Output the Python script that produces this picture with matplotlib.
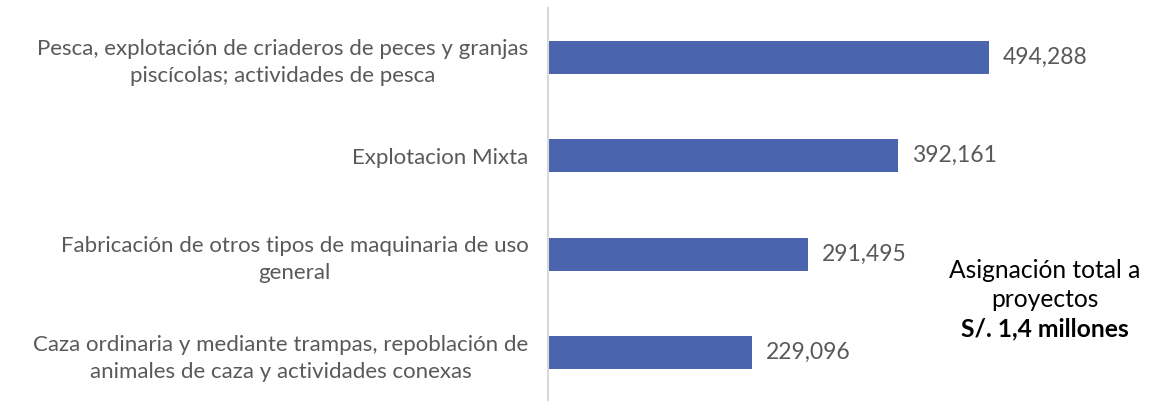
import matplotlib.pyplot as plt

categorias = [
    "Pesca, explotación de criaderos de peces y granjas\npiscícolas; actividades de pesca",
    "Explotacion Mixta",
    "Fabricación de otros tipos de maquinaria de uso\ngeneral",
    "Caza ordinaria y mediante trampas, repoblación de\nanimales de caza y actividades conexas",
]
montos = [494288, 392161, 291495, 229096]

plt.rcParams["font.family"] = ["Lato", "DejaVu Sans"]

fig = plt.figure(figsize=(11.65, 4.04), dpi=100)
ax = fig.add_axes([548 / 1165, 4 / 404, 617 / 1165, 392 / 404])

pos = list(range(len(categorias)))
bars = ax.barh(pos, montos, height=0.335, color="#4a65ad")

ax.set_xlim(0, 494288 * 617 / 441)
ax.set_ylim(3.48, -0.5)

ax.set_yticks(pos)
ax.set_yticklabels(categorias, fontsize=16, color="#595959", ha="right",
                   multialignment="center", linespacing=1.45)
ax.tick_params(axis="y", length=0, pad=14)
ax.set_xticks([])

for s in ["top", "right", "bottom"]:
    ax.spines[s].set_visible(False)
ax.spines["left"].set_color("#d9d9d9")
ax.spines["left"].set_linewidth(1.5)

for b, v in zip(bars, montos):
    ax.annotate(f"{v:,}", xy=(v, b.get_y() + b.get_height() / 2),
                xytext=(10, 0), textcoords="offset points",
                va="center", ha="left", fontsize=16.5, color="#595959")

fig.text(1045 / 1165, 1 - 285 / 404, "Asignación total a\nproyectos",
         ha="center", va="center", fontsize=17.7, color="black", linespacing=1.3)
fig.text(1045 / 1165, 1 - 329 / 404, "S/. 1,4 millones",
         ha="center", va="center", fontsize=17.7, color="black", fontweight="bold")

fig.savefig("out.png", dpi=100)
